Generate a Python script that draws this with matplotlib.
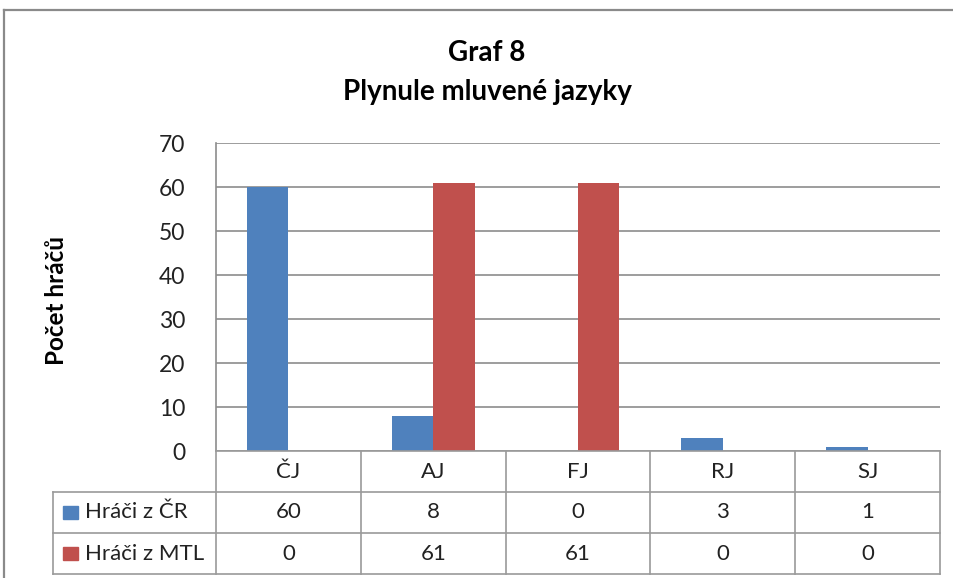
import numpy as np
import matplotlib
matplotlib.use("Agg")
import matplotlib.pyplot as plt
from matplotlib.patches import Rectangle
from matplotlib.lines import Line2D

# ---- data ----
categories = ["ČJ", "AJ", "FJ", "RJ", "SJ"]
series_names = ["Hráči z ČR", "Hráči z MTL"]
cr_values = [60, 8, 0, 3, 1]
mtl_values = [0, 61, 61, 0, 0]
colors = ["#4F81BD", "#C0504D"]
y_ticks = [0, 10, 20, 30, 40, 50, 60, 70]

plt.rcParams["font.family"] = ["Lato", "DejaVu Sans"]

W, H = 954, 578
fig = plt.figure(figsize=(W / 100, H / 100), dpi=100)

def fx(px):
    return px / W

def fy(py):
    return 1 - py / H

# outer chart frame (top + left visible)
fig.add_artist(Line2D([fx(4), fx(954)], [fy(10), fy(10)], color="#8a8a8a", lw=1.6))
fig.add_artist(Line2D([fx(4), fx(4)], [fy(10), fy(578)], color="#8a8a8a", lw=1.6))

# plot area
left, right, top, bottom = 216, 940, 143, 451
ax = fig.add_axes([fx(left), fy(bottom), fx(right - left), (bottom - top) / H])

x = np.arange(len(categories))
bw = 1 / 3.5
ax.bar(x - bw / 2, cr_values, bw, color=colors[0], zorder=3)
ax.bar(x + bw / 2, mtl_values, bw, color=colors[1], zorder=3)

ax.set_xlim(-0.5, len(categories) - 0.5)
ax.set_ylim(0, 70)
ax.set_yticks(y_ticks)
ax.set_xticks([])
ax.tick_params(axis="y", length=0, pad=22, labelsize=16.5, colors="#222222")
ax.yaxis.grid(True, color="#8c8c8c", lw=1.2, zorder=0)
for s in ["top", "right", "bottom"]:
    ax.spines[s].set_visible(False)
ax.spines["left"].set_color("#8c8c8c")
ax.spines["left"].set_linewidth(1.2)

ax.set_ylabel("Počet hráčů", fontsize=17.5, fontweight="bold")
ax.yaxis.set_label_coords((68 - left) / (right - left), 0.49)

# title
fig.text(fx(487), fy(53), "Graf 8", ha="center", va="center", fontsize=20, fontweight="bold")
fig.text(fx(487), fy(92), "Plynule mluvené jazyky", ha="center", va="center",
         fontsize=20, fontweight="bold")

# data table below the plot
tab_top, tab_bot = 451, 574
tab = fig.add_axes([fx(left), fy(tab_bot), fx(right - left), (tab_bot - tab_top) / H])
tab.set_xlim(-0.5, len(categories) - 0.5)
tab.set_ylim(3, 0)
tab.axis("off")

lab_left = -0.5 - (left - 53) / ((right - left) / len(categories))
gc = "#9a9a9a"
lw = 1.2
# horizontal lines
tab.plot([-0.5, len(categories) - 0.5], [0, 0], color=gc, lw=lw, clip_on=False)
for r in [1, 2, 3]:
    tab.plot([lab_left, len(categories) - 0.5], [r, r], color=gc, lw=lw, clip_on=False)
# vertical lines
tab.plot([lab_left, lab_left], [1, 3], color=gc, lw=lw, clip_on=False)
for c in range(len(categories) + 1):
    tab.plot([c - 0.5, c - 0.5], [0, 3], color=gc, lw=lw, clip_on=False)

for i, cat in enumerate(categories):
    tab.text(i, 0.5, cat, ha="center", va="center", fontsize=16, color="#222222")

rows = [cr_values, mtl_values]
for r, (name, vals, col) in enumerate(zip(series_names, rows, colors)):
    yy = r + 1.5
    for i, v in enumerate(vals):
        tab.text(i, yy, str(v), ha="center", va="center", fontsize=16, color="#222222")
    key_x = lab_left + 0.07
    tab.add_patch(Rectangle((key_x, yy - 0.17), 0.105, 0.34, color=col, clip_on=False))
    tab.text(key_x + 0.15, yy, name, ha="left", va="center", fontsize=16, color="#222222")

fig.savefig("out.png", dpi=100)
